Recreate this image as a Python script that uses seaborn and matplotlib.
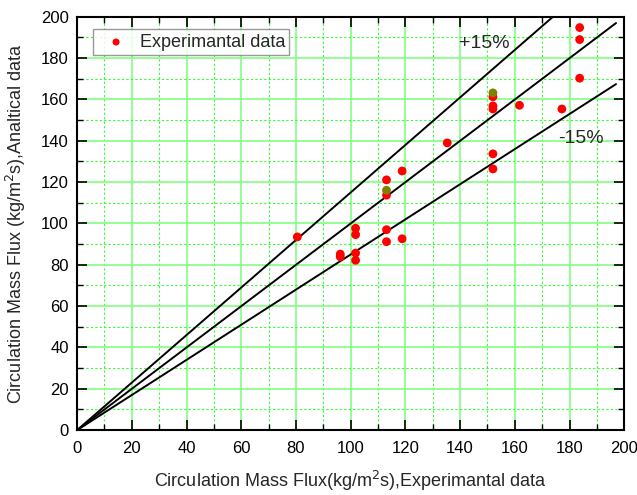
import seaborn as sns
import matplotlib.pyplot as plt
import pandas as pd
from matplotlib.ticker import MultipleLocator

# experimental vs analytical circulation mass flux
exp_flux = [80.5, 96.2, 96.2, 101.8, 101.8, 101.8, 101.8, 113.1, 113.1, 113.1, 113.1,
            118.8, 118.8, 135.3, 152, 152, 152, 152, 152, 161.7, 177.2, 183.7, 183.7, 183.7]
ana_flux = [93.5, 85.2, 83.9, 97.7, 94.6, 85.7, 82.2, 121.1, 113.7, 97.0, 91.2,
            125.4, 92.6, 139.0, 161.3, 156.9, 155.4, 133.7, 126.4, 157.2, 155.4, 194.8, 189.0, 170.3]
# the two darker (olive) points
olive_x = [113.1, 152]
olive_y = [116.1, 163.2]

# reference lines: y = x, +15%, -15%
line_x = [0, 197]
upper_x = [0, 174]
ratio_mid, ratio_up, ratio_low = 1.0, 1.15, 0.85

sns.set_style("white")
plt.rcParams['font.family'] = ['Liberation Sans', 'DejaVu Sans']

fig = plt.figure(figsize=(6.37, 4.95), dpi=100)
ax = fig.add_axes([0.121, 0.131, 0.859, 0.835])

ax.set_xlim(0, 200)
ax.set_ylim(0, 200)
ax.xaxis.set_major_locator(MultipleLocator(20))
ax.yaxis.set_major_locator(MultipleLocator(20))
ax.xaxis.set_minor_locator(MultipleLocator(10))
ax.yaxis.set_minor_locator(MultipleLocator(10))
ax.grid(which='major', color='#80ff80', linestyle='-', linewidth=1.2)
ax.grid(which='minor', color='#33ff33', linestyle=(0, (2, 2)), linewidth=0.8)
ax.set_axisbelow(True)

ax.plot(line_x, [v * ratio_mid for v in line_x], color='black', lw=1.4)
ax.plot(upper_x, [v * ratio_up for v in upper_x], color='black', lw=1.4)
ax.plot(line_x, [v * ratio_low for v in line_x], color='black', lw=1.4)

df = pd.DataFrame({'exp': exp_flux, 'ana': ana_flux})
sns.scatterplot(data=df, x='exp', y='ana', ax=ax, color='#ff0000', s=40,
                edgecolor='none', label='Experimantal data', zorder=3)
sns.scatterplot(x=olive_x, y=olive_y, ax=ax, color='#808000', s=40,
                edgecolor='none', zorder=3)

ax.text(149, 187, '+15%', fontsize=14, ha='center', va='center')
ax.text(184, 141, '-15%', fontsize=14, ha='center', va='center')

for sp in ax.spines.values():
    sp.set_color('black')
    sp.set_linewidth(1.5)
ax.tick_params(which='both', direction='in', top=True, right=True,
               bottom=True, left=True, labelsize=12, colors='black')
ax.tick_params(which='major', length=7, width=1.2)
ax.tick_params(which='minor', length=4, width=1.0)
ax.tick_params(axis='x', which='major', pad=8)
ax.tick_params(axis='y', which='major', pad=6)

ax.set_xlabel('Circulation Mass Flux(kg/m$^2$s),Experimantal data', fontsize=13, labelpad=9)
ax.set_ylabel('Circulation Mass Flux (kg/m$^2$s),Analtical data', fontsize=13, labelpad=9)

leg = ax.legend(loc='upper left', bbox_to_anchor=(0.03, 0.97), fontsize=13,
                frameon=True, fancybox=False, edgecolor='#808080',
                handletextpad=0.3, borderpad=0.25, markerscale=0.8,
                borderaxespad=0.0)
leg.get_frame().set_linewidth(1.0)

fig.savefig('out.png', dpi=100)
